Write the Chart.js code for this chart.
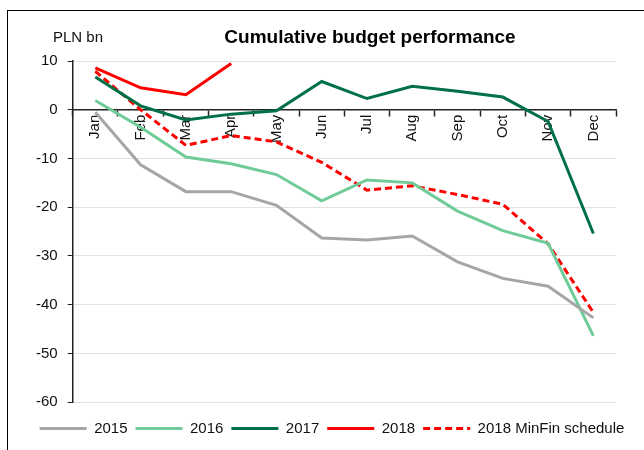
<!DOCTYPE html>
<html>
<head>
<meta charset="utf-8">
<script src="https://cdn.jsdelivr.net/npm/chart.js@4/dist/chart.umd.min.js"></script>
<style>
  body { margin: 0; background: #fff; }
  #wrap { position: relative; width: 644px; height: 450px; }
  #frame { position: absolute; left: 7px; top: 10px; right: -10px; bottom: -10px;
           border-left: 1.5px solid #000; border-top: 1.5px solid #000; pointer-events: none; }
</style>
</head>
<body>
<div id="wrap">
  <canvas id="myChart" width="644" height="450"></canvas>
  <div id="frame"></div>
</div>
<script>
// cumulative budget balance, PLN bn
var months = ['Jan', 'Feb', 'Mar', 'Apr', 'May', 'Jun', 'Jul', 'Aug', 'Sep', 'Oct', 'Nov', 'Dec'];
var y2015 = [-0.5, -11.3, -16.8, -16.8, -19.6, -26.3, -26.7, -25.9, -31.2, -34.6, -36.2, -42.7];
var y2016 = [1.9, -3.6, -9.7, -11.1, -13.3, -18.7, -14.4, -15.0, -20.8, -24.8, -27.4, -46.4];
var y2017 = [6.7, 0.8, -2.1, -0.9, -0.2, 5.8, 2.3, 4.8, 3.8, 2.6, -2.4, -25.4];
var y2018 = [8.6, 4.5, 3.1, 9.5, null, null, null, null, null, null, null, null];
var minfin2018 = [7.9, 0.0, -7.3, -5.3, -6.6, -10.8, -16.5, -15.6, -17.4, -19.4, -27.5, -41.6];
var yTicks = [10, 0, -10, -20, -30, -40, -50, -60];

Chart.defaults.font.family = "'Liberation Sans', Arial, sans-serif";
Chart.defaults.font.size = 15;
Chart.defaults.color = '#111';

function line(label, data, color, dash) {
    return {
        label: label,
        data: data,
        borderColor: color,
        backgroundColor: color,
        borderWidth: 3,
        borderDash: dash || [],
        pointRadius: 0,
        tension: 0,
        fill: false
    };
}

// title + unit label drawn on the canvas
var textPlugin = {
    id: 'texts',
    afterDraw: function (chart) {
        var ctx = chart.ctx;
        ctx.save();
        ctx.fillStyle = '#000';
        ctx.textBaseline = 'alphabetic';
        ctx.font = "bold 19px 'Liberation Sans', Arial, sans-serif";
        ctx.textAlign = 'center';
        ctx.fillText('Cumulative budget performance', 370, 43);
        ctx.font = "15px 'Liberation Sans', Arial, sans-serif";
        ctx.textAlign = 'left';
        ctx.fillStyle = '#111';
        ctx.fillText('PLN bn', 53, 42);
        ctx.restore();
    }
};

var ctx = document.getElementById('myChart').getContext('2d');
var myChart = new Chart(ctx, {
    type: 'line',
    data: {
        labels: months,
        datasets: [
            line('2015', y2015, '#a6a6a6'),
            line('2016', y2016, '#6fcb98'),
            line('2017', y2017, '#007046'),
            line('2018', y2018, '#ff0000'),
            line('2018 MinFin schedule', minfin2018, '#ff0000', [7, 4])
        ]
    },
    options: {
        responsive: false,
        animation: false,
        devicePixelRatio: 1,
        layout: { padding: { top: 61, left: 20, right: 0, bottom: 4 } },
        plugins: {
            title: { display: false },
            tooltip: { enabled: false },
            legend: {
                position: 'bottom',
                title: { display: true, text: '', padding: 0, font: { size: 9 } },
                labels: {
                    usePointStyle: true,
                    pointStyle: 'line',
                    pointStyleWidth: 47,
                    padding: 8,
                    color: '#111',
                    font: { size: 15 },
                    generateLabels: function (chart) {
                        var items = Chart.defaults.plugins.legend.labels.generateLabels(chart);
                        items.forEach(function (it) {
                            var ds = chart.data.datasets[it.datasetIndex];
                            it.lineDash = ds.borderDash;
                            it.lineWidth = 3;
                            it.strokeStyle = ds.borderColor;
                        });
                        return items;
                    }
                }
            }
        },
        scales: {
            x: {
                position: { y: 0 },
                offset: true,
                grid: { display: true, drawOnChartArea: false, offset: true, tickLength: 6, tickColor: '#222', tickWidth: 1.5 },
                border: { display: true, color: '#222', width: 1.5 },
                ticks: { autoSkip: false, minRotation: 90, maxRotation: 90, padding: -1, color: '#111' }
            },
            y: {
                min: -60,
                max: 10,
                afterFit: function (s) { s.width = 52.7; },
                afterBuildTicks: function (s) { s.ticks = yTicks.map(function (v) { return { value: v }; }); },
                grid: { color: '#c4c4c4', lineWidth: 1, tickLength: 5, tickColor: '#222' },
                border: { display: true, color: '#222', width: 1.5, dash: [1, 1] },
                ticks: { padding: 10, color: '#111' }
            },
            y2: {
                position: 'right',
                display: true,
                grid: { display: false },
                border: { display: false },
                ticks: { display: false },
                afterFit: function (s) { s.width = 28; }
            }
        }
    },
    plugins: [textPlugin]
});
</script>
</body>
</html>
